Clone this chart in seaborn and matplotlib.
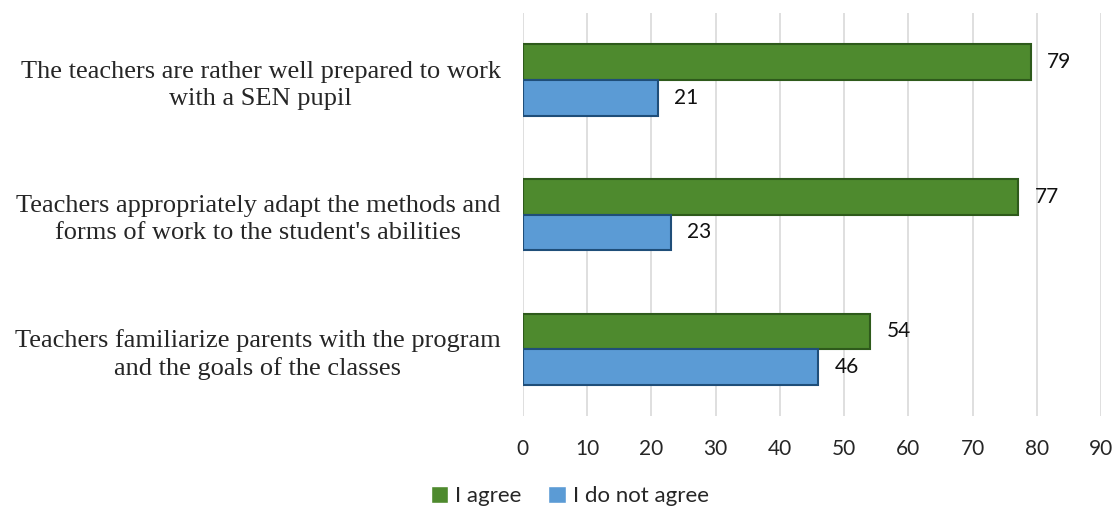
import matplotlib
matplotlib.use("Agg")
import matplotlib.pyplot as plt
import seaborn as sns
import pandas as pd

categories = [
    "The teachers are rather well prepared to work\nwith a SEN pupil",
    "Teachers appropriately adapt the methods and\nforms of work to the student's abilities",
    "Teachers familiarize parents with the program\nand the goals of the classes",
]
series_names = ["I agree", "I do not agree"]
agree = [79, 77, 54]
disagree = [21, 23, 46]
x_ticks = [0, 10, 20, 30, 40, 50, 60, 70, 80, 90]

rows = []
for c, a, d in zip(categories, agree, disagree):
    rows.append({"cat": c, "series": series_names[0], "val": a})
    rows.append({"cat": c, "series": series_names[1], "val": d})
df = pd.DataFrame(rows)

sns.set_theme(style="white")
plt.rcParams['font.family'] = ['Lato', 'DejaVu Sans']

fig = plt.figure(figsize=(11.17, 5.11), dpi=100)
ax = fig.add_axes([0.468, 0.185, 0.518, 0.79])

colors = ["#4e8a2e", "#5b9bd5"]
edges = ["#2e5a1b", "#1f4e79"]
sns.barplot(data=df, y="cat", x="val", hue="series", orient="h",
            palette=colors, saturation=1, width=0.53, gap=0.0, ax=ax, legend=True)

for i, cont in enumerate(ax.containers):
    for p in cont:
        p.set_edgecolor(edges[i])
        p.set_linewidth(1.5)
    ax.bar_label(cont, fmt="%d", padding=12, fontsize=15, color="#111111")

ax.set_xlim(0, 90)
ax.set_xticks(x_ticks)
ax.set_xticklabels([str(t) for t in x_ticks], fontsize=15)
ax.tick_params(axis="x", pad=16, length=0)
ax.tick_params(axis="y", length=0, pad=16)
ax.set_ylim(2.5, -0.5)
ax.xaxis.grid(True, color="#d9d9d9", linewidth=1.2)
ax.set_axisbelow(True)
for s in ax.spines.values():
    s.set_visible(False)
ax.set_xlabel("")
ax.set_ylabel("")

for lab in ax.get_yticklabels():
    lab.set_family(["Liberation Serif"])
    lab.set_fontsize(19)
    lab.set_multialignment("center")
    lab.set_linespacing(1.3)

h, l = ax.get_legend_handles_labels()
ax.legend_.remove()
fig.legend(h, l, loc="lower center", bbox_to_anchor=(0.51, -0.03), ncol=2,
           frameon=False, fontsize=16, handlelength=0.8, handleheight=0.8,
           handletextpad=0.3, columnspacing=1.2)

fig.savefig("out.png", dpi=100)
